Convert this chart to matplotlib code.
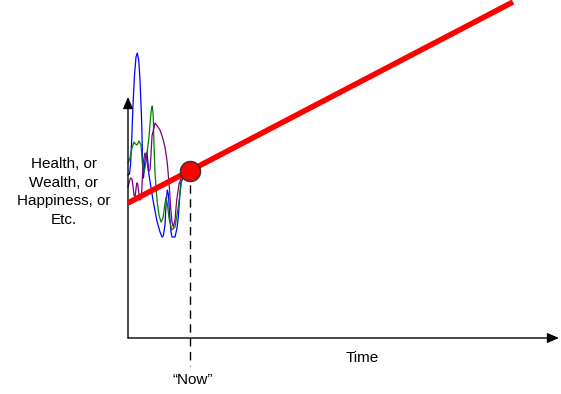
import matplotlib.pyplot as plt

plt.rcParams["font.family"] = ["Liberation Sans", "DejaVu Sans"]

# conceptual chart, values in picture units (x: time, y: down = worse)
axis_origin = (128, 338)
y_axis_top = 97
x_axis_end = 559

trend_x = [128, 513]
trend_y = [203, 2]

now_x = 190
now_y = 171
dash_bottom = 366

blue_x = [128, 129.5, 130.5, 131.7, 133, 134.5, 136, 137.3, 138.7, 140, 141, 141.7, 142.7, 143.5, 145,
          147, 149, 153, 156.7, 160, 162, 163.3, 165, 166, 167.3, 168.5, 169.5, 171, 172, 175,
          177, 178.3, 179.5, 180.7, 184, 190]
blue_y = [175, 174, 165, 140, 105, 75, 57, 53, 60, 80, 105, 123, 167, 178, 160,
          152, 175, 200, 220, 232, 237, 236, 225, 205, 190, 195, 213, 232, 237, 237,
          228, 217, 200, 183, 176, 171]

green_x = [128, 130, 132, 134, 135.5, 137, 139, 141, 142, 143, 143.8, 145, 147, 149, 150.5, 151.5,
           152.3, 153.2, 154, 155, 157, 159, 161, 163, 164.5, 166, 167.5, 169, 171.7, 175,
           178.3, 181.7, 190]
green_y = [163, 158, 148, 142, 144, 145, 141, 145, 158, 170, 173, 168, 153, 137, 118, 109,
           106, 115, 145, 173, 200, 215, 222, 218, 207, 197, 205, 218, 230, 227,
           207, 180, 171]

purple_x = [128, 129.5, 130.7, 132, 133, 134, 135, 136, 136.7, 137.7, 138.7, 140, 141, 141.7,
            142.5, 143.3, 145, 146.7, 148.3, 150, 151, 152, 155, 158, 160, 162.7, 165, 167.3,
            169.3, 170.7, 172, 173.3, 175, 176.7, 179, 181.7, 190]
purple_y = [187, 181, 178, 179, 186, 195, 197, 189, 183, 184, 192, 200, 199, 192,
            175, 162, 153, 157, 171, 170, 155, 136, 123, 127, 130, 138, 147, 163,
            187, 208, 222, 227, 220, 200, 184, 177, 171]

y_label = "Health, or\nWealth, or\nHappiness, or\nEtc."


def main():
    fig = plt.figure(figsize=(5.61, 3.94), dpi=100)
    ax = fig.add_axes([0, 0, 1, 1])
    ax.set_xlim(0, 561)
    ax.set_ylim(394, 0)
    ax.axis("off")

    arrow = dict(arrowstyle="-|>,head_length=0.7,head_width=0.3", color="black", lw=1,
                 shrinkA=0, shrinkB=0)
    ax.annotate("", xy=(axis_origin[0], y_axis_top), xytext=axis_origin, arrowprops=arrow)
    ax.annotate("", xy=(x_axis_end, axis_origin[1]), xytext=axis_origin, arrowprops=arrow)

    ax.plot(blue_x, blue_y, color="#0000ff", lw=0.9, solid_joinstyle="round")
    ax.plot(green_x, green_y, color="#008000", lw=0.9, solid_joinstyle="round")
    ax.plot(purple_x, purple_y, color="#800080", lw=0.9, solid_joinstyle="round")

    ax.plot([now_x, now_x], [now_y, dash_bottom], color="black", lw=1, ls=(0, (6, 4)))
    ax.plot(trend_x, trend_y, color="#ff0000", lw=4, solid_capstyle="butt", zorder=4)
    ax.scatter([now_x], [now_y], s=210, color="#ff0000", edgecolor="#333333", lw=1, zorder=5)

    ax.text(64, 192, y_label, ha="center", va="center", fontsize=11, linespacing=1.45)
    ax.text(362, 358, "Time", ha="center", va="center", fontsize=11)
    ax.text(193, 380, "\u201cNow\u201d", ha="center", va="center", fontsize=11)

    fig.savefig("out.png", dpi=100)
    plt.close(fig)


if __name__ == "__main__":
    main()
